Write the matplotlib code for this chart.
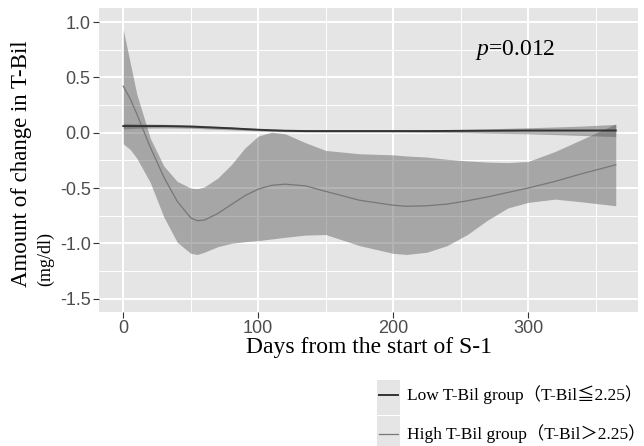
import matplotlib
matplotlib.use("Agg")
import matplotlib.pyplot as plt
from matplotlib.lines import Line2D

plt.rcParams['mathtext.fontset'] = 'custom'
plt.rcParams['mathtext.rm'] = 'Liberation Serif'
plt.rcParams['mathtext.it'] = 'Liberation Serif:italic'

# Valeurs (jours depuis le debut de S-1)
days = [0, 5, 10, 20, 30, 40, 50, 55, 60, 70, 80, 90, 100, 110, 120, 135, 150,
        175, 200, 210, 225, 240, 255, 270, 285, 300, 320, 340, 365]

high_mean = [0.42, 0.31, 0.17, -0.13, -0.40, -0.62, -0.77, -0.795, -0.79, -0.73,
             -0.65, -0.57, -0.51, -0.475, -0.465, -0.48, -0.53, -0.61, -0.655,
             -0.665, -0.66, -0.645, -0.615, -0.58, -0.54, -0.50, -0.44, -0.37, -0.29]
high_upper = [0.93, 0.64, 0.35, -0.05, -0.30, -0.44, -0.50, -0.505, -0.49, -0.41,
              -0.29, -0.14, -0.03, 0.005, -0.01, -0.09, -0.16, -0.19, -0.20,
              -0.21, -0.22, -0.24, -0.255, -0.265, -0.27, -0.26, -0.17, -0.06, 0.08]
high_lower = [-0.10, -0.15, -0.23, -0.45, -0.76, -0.99, -1.09, -1.10, -1.08, -1.03,
              -1.00, -0.985, -0.975, -0.96, -0.945, -0.925, -0.92, -1.02, -1.09,
              -1.10, -1.08, -1.02, -0.92, -0.79, -0.68, -0.63, -0.60, -0.625, -0.66]

low_mean = [0.06, 0.06, 0.06, 0.06, 0.06, 0.058, 0.055, 0.053, 0.05, 0.045,
            0.04, 0.033, 0.027, 0.022, 0.018, 0.015, 0.015, 0.015, 0.015,
            0.015, 0.015, 0.016, 0.017, 0.018, 0.019, 0.02, 0.02, 0.02, 0.02]
low_upper = [0.085, 0.083, 0.08, 0.078, 0.076, 0.074, 0.07, 0.068, 0.065, 0.058,
             0.052, 0.045, 0.037, 0.032, 0.028, 0.026, 0.025, 0.025, 0.025,
             0.026, 0.027, 0.029, 0.031, 0.035, 0.04, 0.045, 0.052, 0.06, 0.075]
low_lower = [0.035, 0.037, 0.04, 0.042, 0.043, 0.042, 0.04, 0.038, 0.035, 0.03,
             0.026, 0.021, 0.016, 0.012, 0.008, 0.006, 0.005, 0.005, 0.005,
             0.004, 0.003, 0.001, -0.001, -0.004, -0.007, -0.01, -0.017, -0.025, -0.035]

xticks = [0, 100, 200, 300]
yticks = [-1.5, -1.0, -0.5, 0.0, 0.5, 1.0]
legend_labels = ['Low T-Bil group（T-Bil≦2.25）', 'High T-Bil group（T-Bil＞2.25）']

fig = plt.figure(figsize=(6.44, 4.46), dpi=100)
ax = fig.add_axes([99 / 644, 1 - 312 / 446, 539 / 644, 304 / 446])
ax.set_facecolor('#E5E5E5')
for s in ax.spines.values():
    s.set_visible(False)

# grille style ggplot
ax.set_xticks(xticks)
ax.set_yticks(yticks)
ax.set_xticks([50, 150, 250, 350], minor=True)
ax.set_yticks([-1.25, -0.75, -0.25, 0.25, 0.75], minor=True)
ax.grid(True, which='major', color='white', linewidth=1.4)
ax.grid(True, which='minor', color='white', linewidth=0.7)
ax.set_axisbelow(True)
ax.tick_params(which='minor', length=0)
ax.tick_params(which='major', length=4, color='#333333', width=0.8,
               labelsize=13, labelcolor='#4D4D4D', pad=2)
ax.set_yticklabels(['-1.5', '-1.0', '-0.5', '0.0', '0.5', '1.0'])
for lab in ax.get_xticklabels() + ax.get_yticklabels():
    lab.set_family('Liberation Sans')

ax.fill_between(days, high_lower, high_upper, color='#5A5A5A', alpha=0.45, linewidth=0)
ax.fill_between(days, low_lower, low_upper, color='#5A5A5A', alpha=0.45, linewidth=0)
ax.plot(days, high_mean, color='#777777', linewidth=0.9)
ax.plot(days, low_mean, color='#333333', linewidth=1.4)

ax.set_xlim(-18, 381.5)
ax.set_ylim(-1.62, 1.127)

ax.text(261, 0.75, '$p$=0.012', fontsize=17, va='center', ha='left', color='black',
        family='Liberation Serif')

ax.set_xlabel('Days from the start of S-1', family='Liberation Serif', fontsize=17,
              labelpad=0)

fig.text(22 / 644, 1 - 287 / 446, 'Amount of change in T-Bil', rotation=90,
         family='Liberation Serif', fontsize=16.5, ha='center', va='bottom')
fig.text(46 / 644, 1 - 286 / 446, '(mg/dl)', rotation=90,
         family='Liberation Serif', fontsize=13, ha='center', va='bottom')

# legende manuelle (cles sur fond gris)
lax = fig.add_axes([377 / 644, 0, 23 / 644, 66 / 446])
lax.set_xlim(0, 1)
lax.set_ylim(0, 66)
lax.axis('off')
lax.add_patch(plt.Rectangle((0, 31), 1, 35, color='#E5E5E5', lw=0))
lax.add_patch(plt.Rectangle((0, -5), 1, 35, color='#E5E5E5', lw=0))
leg_colors = ['#333333', '#777777']
leg_widths = [1.4, 0.9]
leg_y = [446 - 395, 446 - 434]
for c, w, yy, lbl in zip(leg_colors, leg_widths, leg_y, legend_labels):
    lax.add_line(Line2D([0.1, 0.9], [yy, yy], color=c, linewidth=w))
    fig.text(407 / 644, yy / 446, lbl, family=['Liberation Serif', 'Noto Sans CJK JP'],
             fontsize=12.5, va='center', ha='left')

fig.savefig('out.png', dpi=100)
